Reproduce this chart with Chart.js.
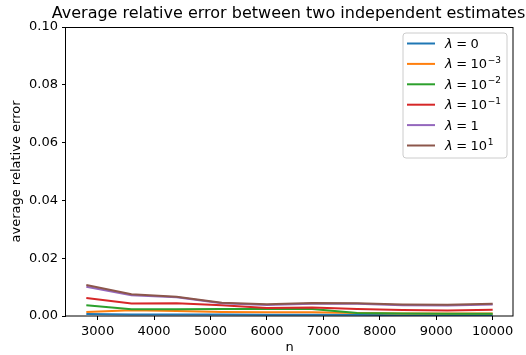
<!DOCTYPE html>
<html>
<head>
<meta charset="utf-8">
<script src="https://cdn.jsdelivr.net/npm/chart.js@4/dist/chart.umd.min.js"></script>
<style>
  html, body { margin: 0; padding: 0; background: #ffffff; }
  #c { display: block; }
</style>
</head>
<body>
<canvas id="c" width="526" height="355"></canvas>
<script>
// Sample sizes on the x axis
const nValues = [2800, 3600, 4400, 5200, 6000, 6800, 7600, 8400, 9200, 10000];

// Average relative error for each regularisation strength
const errLambda0     = [0.0007, 0.0005, 0.0005, 0.0005, 0.0004, 0.0004, 0.0004, 0.0003, 0.0003, 0.0003];
const errLambda1e_3  = [0.0014, 0.0020, 0.0017, 0.0014, 0.0013, 0.0013, 0.0010, 0.0009, 0.0009, 0.0009];
const errLambda1e_2  = [0.0037, 0.0023, 0.0023, 0.0024, 0.0024, 0.0024, 0.0010, 0.0009, 0.0008, 0.0008];
const errLambda1e_1  = [0.0062, 0.0043, 0.0044, 0.0037, 0.0028, 0.0029, 0.0024, 0.0021, 0.0019, 0.0022];
const errLambda1     = [0.0101, 0.0072, 0.0065, 0.0044, 0.0038, 0.0042, 0.0042, 0.0037, 0.0036, 0.0040];
const errLambda10    = [0.0107, 0.0075, 0.0067, 0.0046, 0.0041, 0.0045, 0.0044, 0.0040, 0.0039, 0.0042];

// Legend text pieces: λ = base^exp
const lambdaBase = ['0', '10', '10', '10', '1', '10'];
const lambdaExp  = ['', '\u22123', '\u22122', '\u22121', '', '1'];

// Tick labels
const xTicks = [3000, 4000, 5000, 6000, 7000, 8000, 9000, 10000];
const yTicks = [0, 0.02, 0.04, 0.06, 0.08, 0.10];

const seriesValues = [errLambda0, errLambda1e_3, errLambda1e_2, errLambda1e_1, errLambda1, errLambda10];
const seriesColors = ['#1f77b4', '#ff7f0e', '#2ca02c', '#d62728', '#9467bd', '#8c564b'];

const FONT = 'DejaVu Sans';

const datasets = seriesValues.map((vals, i) => ({
  label: 'λ = ' + lambdaBase[i] + (lambdaExp[i] ? '^' + lambdaExp[i] : ''),
  data: nValues.map((n, k) => ({ x: n, y: vals[k] })),
  borderColor: seriesColors[i],
  backgroundColor: seriesColors[i],
  borderWidth: 2,
  pointRadius: 0,
  tension: 0,
  fill: false,
  order: seriesValues.length - i
}));

// Frame, title and legend drawn on the canvas
const decorPlugin = {
  id: 'decor',
  afterDraw(chart) {
    const ctx = chart.ctx;
    const a = chart.chartArea;
    ctx.save();

    // axes frame
    ctx.strokeStyle = '#000000';
    ctx.lineWidth = 1;
    ctx.strokeRect(Math.round(a.left) - 0.5, Math.round(a.top) + 0.5,
                   Math.round(a.right - a.left) + 0.5, Math.round(a.bottom - a.top) - 0.5);

    // title
    ctx.fillStyle = '#000000';
    ctx.font = '16px "' + FONT + '"';
    ctx.textAlign = 'center';
    ctx.textBaseline = 'alphabetic';
    ctx.fillText('Average relative error between two independent estimates', (a.left + a.right) / 2 - 1, 18);

    // legend box
    const bx = 403, by = 33, bw = 104, bh = 125, r = 3;
    ctx.beginPath();
    ctx.moveTo(bx + r, by);
    ctx.lineTo(bx + bw - r, by);
    ctx.arcTo(bx + bw, by, bx + bw, by + r, r);
    ctx.lineTo(bx + bw, by + bh - r);
    ctx.arcTo(bx + bw, by + bh, bx + bw - r, by + bh, r);
    ctx.lineTo(bx + r, by + bh);
    ctx.arcTo(bx, by + bh, bx, by + bh - r, r);
    ctx.lineTo(bx, by + r);
    ctx.arcTo(bx, by, bx + r, by, r);
    ctx.closePath();
    ctx.fillStyle = 'rgba(255,255,255,0.8)';
    ctx.fill();
    ctx.strokeStyle = '#cccccc';
    ctx.lineWidth = 1;
    ctx.stroke();

    const rowY0 = 43.5, rowStep = 20.4;
    for (let i = 0; i < seriesColors.length; i++) {
      const y = rowY0 + i * rowStep;
      ctx.strokeStyle = seriesColors[i];
      ctx.lineWidth = 2;
      ctx.beginPath();
      ctx.moveTo(407, y);
      ctx.lineTo(435, y);
      ctx.stroke();

      const baseY = y + 4.5;
      let x = 445;
      ctx.fillStyle = '#000000';
      ctx.textAlign = 'left';
      ctx.textBaseline = 'alphabetic';
      ctx.font = 'italic 13px "' + FONT + '"';
      ctx.fillText('λ', x, baseY);
      x += ctx.measureText('λ').width + 3.5;
      ctx.font = '13px "' + FONT + '"';
      ctx.fillText('=', x, baseY);
      x += ctx.measureText('=').width + 3.5;
      ctx.fillText(lambdaBase[i], x, baseY);
      x += ctx.measureText(lambdaBase[i]).width + 0.5;
      if (lambdaExp[i]) {
        ctx.font = '9px "' + FONT + '"';
        ctx.fillText(lambdaExp[i], x, baseY - 5.5);
      }
    }
    ctx.restore();
  }
};

new Chart(document.getElementById('c'), {
  type: 'line',
  data: { datasets },
  options: {
    responsive: false,
    animation: false,
    devicePixelRatio: 1,
    layout: { padding: { left: 0, top: 27, right: 13, bottom: 0 } },
    plugins: {
      legend: { display: false },
      title: { display: false },
      tooltip: { enabled: false }
    },
    scales: {
      x: {
        type: 'linear',
        min: 2440,
        max: 10360,
        afterFit(scale) { scale.height = 39; },
        afterBuildTicks(scale) { scale.ticks = xTicks.map(v => ({ value: v })); },
        border: { display: false },
        grid: { drawOnChartArea: false, drawTicks: true, tickLength: 4, color: '#000000', lineWidth: 1 },
        ticks: {
          color: '#000000',
          font: { family: FONT, size: 13 },
          padding: 4,
          maxRotation: 0,
          autoSkip: false,
          callback: (v) => String(v)
        },
        title: {
          display: true,
          text: 'n',
          color: '#000000',
          font: { family: FONT, size: 13 },
          padding: { top: 0, bottom: 0 }
        }
      },
      y: {
        type: 'linear',
        min: 0,
        max: 0.1,
        afterFit(scale) { scale.width = 66; },
        afterBuildTicks(scale) { scale.ticks = yTicks.map(v => ({ value: v })); },
        border: { display: false },
        grid: { drawOnChartArea: false, drawTicks: true, tickLength: 4, color: '#000000', lineWidth: 1 },
        ticks: {
          color: '#000000',
          font: { family: FONT, size: 13 },
          padding: 4,
          autoSkip: false,
          callback: (v) => Number(v).toFixed(2)
        },
        title: {
          display: true,
          text: 'average relative error',
          color: '#000000',
          font: { family: FONT, size: 13 },
          padding: { top: 9, bottom: 0 }
        }
      }
    }
  },
  plugins: [decorPlugin]
});
</script>
</body>
</html>
